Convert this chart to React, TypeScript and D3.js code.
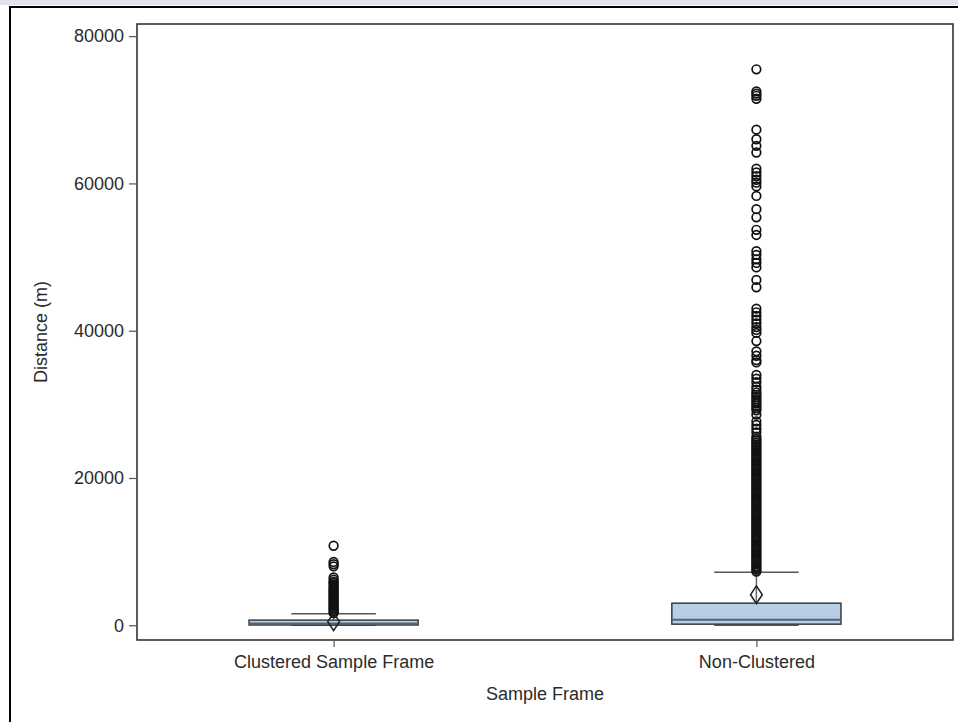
import React from 'react';
import { useEffect, useRef } from 'react';
import { select, scaleLinear, scalePoint, axisLeft, axisBottom, symbol, symbolDiamond } from 'd3';

// categories + box statistics
const categories = ['Clustered Sample Frame', 'Non-Clustered'];
const whiskerLow = [0, 0];
const q1 = [40, 150];
const median = [250, 750];
const q3 = [700, 3000];
const whiskerHigh = [1550, 7200];
const means = [480, 4150];

const clusteredOutliers = [
  1650, 1850, 2050, 2250, 2450, 2650, 2850, 3050, 3250, 3450, 3650, 3850, 4050, 4250, 4450,
  4650, 4850, 5050, 5250, 5500, 5750, 5900, 6200, 6500, 8000, 8300, 8600, 10800,
];
const nonClusteredOutliers = [
  7300, 7550, 7800, 8050, 8300, 8550, 8800, 9050, 9300, 9550, 9800, 10050, 10300, 10550,
  10800, 11050, 11300, 11550, 11800, 12050, 12300, 12550, 12800, 13050, 13300, 13550, 13800,
  14050, 14300, 14550, 14800, 15050, 15300, 15550, 15800, 16050, 16300, 16550, 16800, 17050,
  17300, 17550, 17800, 18050, 18300, 18550, 18800, 19050, 19300, 19550, 19800, 20050, 20300,
  20550, 20800, 21050, 21300, 21550, 21800, 22050, 22300, 22550, 22800, 23050, 23300, 23550,
  23800, 24050, 24300, 24550, 24800, 25050, 25300, 25600, 26200, 26700, 27200, 27700, 28600,
  29200, 29500, 29800, 30100, 30400, 30700, 31000, 31300, 31600, 32000, 32400, 33000, 33500,
  34000, 35700, 36000, 36600, 37200, 38600, 39700, 40100, 40500, 41000, 41500, 42000, 42500,
  43000, 45900, 46900, 48600, 49200, 49700, 50300, 50800, 53000, 53700, 55400, 56500, 58300,
  59600, 60100, 60500, 61000, 61500, 62000, 64200, 65100, 66000, 67300, 71500, 71900, 72200,
  72500, 75500,
];
const outliers = [clusteredOutliers, nonClusteredOutliers];
const yTicks = [0, 20000, 40000, 60000, 80000];

const W = 958, H = 722;
const plotL = 137, plotR = 953, plotT = 24, plotB = 640;
const FONT = "'Liberation Sans', Arial, sans-serif";
const TXT = '#2b2b2b';

export default function App() {
  const xAxisRef = useRef<SVGGElement>(null);
  const yAxisRef = useRef<SVGGElement>(null);

  const x = scalePoint<string>().domain(categories).range([plotL, plotR]).padding(0.465);
  const y = scaleLinear().domain([-2000, 81650]).range([plotB, plotT]);
  const boxW = x.step() * 0.4;
  const capW = boxW * 0.5;
  const diamond = symbol().type(symbolDiamond).size(90)();

  useEffect(() => {
    const yAxis = axisLeft(y).tickValues(yTicks).tickSize(8).tickPadding(5).tickFormat((d) => String(d));
    const gy = select(yAxisRef.current).call(yAxis);
    gy.select('.domain').remove();
    gy.selectAll('line').attr('stroke', '#555').attr('stroke-width', 1.2);
    gy.selectAll('text').attr('fill', TXT).style('font-family', FONT).style('font-size', '18px');

    const xAxis = axisBottom(x).tickSize(7).tickPadding(8);
    const gx = select(xAxisRef.current).call(xAxis);
    gx.select('.domain').remove();
    gx.selectAll('line').attr('stroke', '#555').attr('stroke-width', 1.2);
    gx.selectAll('text').attr('fill', TXT).style('font-family', FONT).style('font-size', '18px');
  }, []);

  return (
    <svg width={W} height={H} style={{ position: 'absolute', left: 0, top: 0, background: '#fff' }}>
      <rect x={0} y={0} width={W} height={5} fill="#e2e2f3" />
      <rect x={10} y={7} width={W} height={H} fill="#fff" stroke="#000" strokeWidth={2} />

      {categories.map((c, i) => {
        const cx = x(c) as number;
        return (
          <g key={c}>
            {/* whiskers */}
            <line x1={cx} x2={cx} y1={y(q3[i])} y2={y(whiskerHigh[i])} stroke="#666" strokeWidth={1.5} />
            <line x1={cx} x2={cx} y1={y(q1[i])} y2={y(whiskerLow[i])} stroke="#666" strokeWidth={1.5} />
            <line x1={cx - capW / 2} x2={cx + capW / 2} y1={y(whiskerHigh[i])} y2={y(whiskerHigh[i])} stroke="#555" strokeWidth={1.5} />
            <line x1={cx - capW / 2} x2={cx + capW / 2} y1={y(whiskerLow[i])} y2={y(whiskerLow[i])} stroke="#555" strokeWidth={1.5} />
            {/* box */}
            <rect x={cx - boxW / 2} y={y(q3[i])} width={boxW} height={y(q1[i]) - y(q3[i])}
              fill="#b8cde6" stroke="#333c46" strokeWidth={1.5} />
            <line x1={cx - boxW / 2} x2={cx + boxW / 2} y1={y(median[i])} y2={y(median[i])} stroke="#56636f" strokeWidth={1.8} />
            {/* outliers */}
            {outliers[i].map((v, j) => (
              <circle key={j} cx={cx} cy={y(v)} r={4.3} fill="none" stroke="#111" strokeWidth={1.7} />
            ))}
            {/* mean */}
            <path d={diamond as string} transform={`translate(${cx},${y(means[i])}) scale(1.15,1)`}
              fill="none" stroke="#222" strokeWidth={1.4} />
          </g>
        );
      })}

      <rect x={plotL} y={plotT} width={plotR - plotL} height={plotB - plotT} fill="none" stroke="#333" strokeWidth={1.6} />
      <g ref={yAxisRef} transform={`translate(${plotL},0)`} />
      <g ref={xAxisRef} transform={`translate(0,${plotB})`} />

      <text x={(plotL + plotR) / 2} y={700} textAnchor="middle" fill={TXT}
        style={{ fontFamily: FONT, fontSize: 18 }}>Sample Frame</text>
      <text transform={`translate(47,${(plotT + plotB) / 2}) rotate(-90)`} textAnchor="middle" fill={TXT}
        style={{ fontFamily: FONT, fontSize: 18 }}>Distance (m)</text>
    </svg>
  );
}
